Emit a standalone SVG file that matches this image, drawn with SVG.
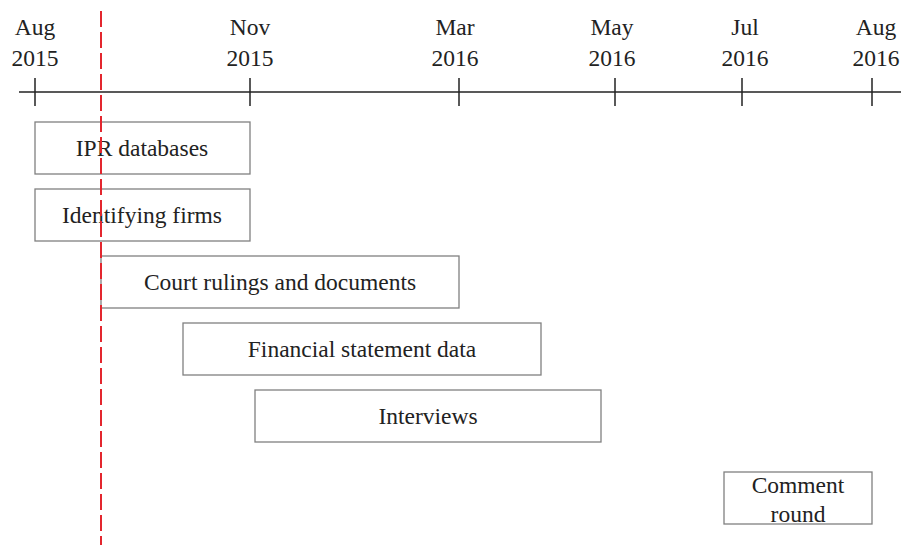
<svg xmlns="http://www.w3.org/2000/svg" width="901" height="545" viewBox="0 0 901 545">
<style>
text{font-family:"Liberation Serif","Times New Roman",serif;font-size:23.5px;fill:#222;text-anchor:middle}
.box{fill:#fff;stroke:#808080;stroke-width:1.3}
.axis{stroke:#222;stroke-width:1.5;fill:none}
</style>
<rect width="901" height="545" fill="#fff"/>
<g id="axis">
<line class="axis" x1="19" y1="92" x2="901" y2="92"/>
<line class="axis" x1="35" y1="78" x2="35" y2="106"/>
<line class="axis" x1="250" y1="78" x2="250" y2="106"/>
<line class="axis" x1="459" y1="78" x2="459" y2="106"/>
<line class="axis" x1="615" y1="78" x2="615" y2="106"/>
<line class="axis" x1="742" y1="78" x2="742" y2="106"/>
<line class="axis" x1="872" y1="78" x2="872" y2="106"/>
<text x="35" y="35">Aug</text><text x="35" y="66">2015</text>
<text x="250" y="35">Nov</text><text x="250" y="66">2015</text>
<text x="455" y="35">Mar</text><text x="455" y="66">2016</text>
<text x="612" y="35">May</text><text x="612" y="66">2016</text>
<text x="745" y="35">Jul</text><text x="745" y="66">2016</text>
<text x="876" y="35">Aug</text><text x="876" y="66">2016</text>
</g>
<g id="ipr"><rect class="box" x="35" y="122" width="215" height="52"/><text x="142" y="156">IPR databases</text></g>
<g id="firms"><rect class="box" x="35" y="189" width="215" height="52"/><text x="142" y="223">Identifying firms</text></g>
<g id="court"><rect class="box" x="101" y="256" width="358" height="52"/><text x="280" y="290">Court rulings and documents</text></g>
<g id="financial"><rect class="box" x="183" y="323" width="358" height="52"/><text x="362" y="357">Financial statement data</text></g>
<g id="interviews"><rect class="box" x="255" y="390" width="346" height="52"/><text x="428" y="424">Interviews</text></g>
<g id="comment"><rect class="box" x="724" y="472" width="148" height="52"/><text x="798" y="493">Comment</text><text x="798" y="522">round</text></g>
<g id="connectors">
<line x1="101" y1="11" x2="101" y2="545" stroke="#e3262e" stroke-width="2" stroke-dasharray="16 5"/>
</g>
</svg>
